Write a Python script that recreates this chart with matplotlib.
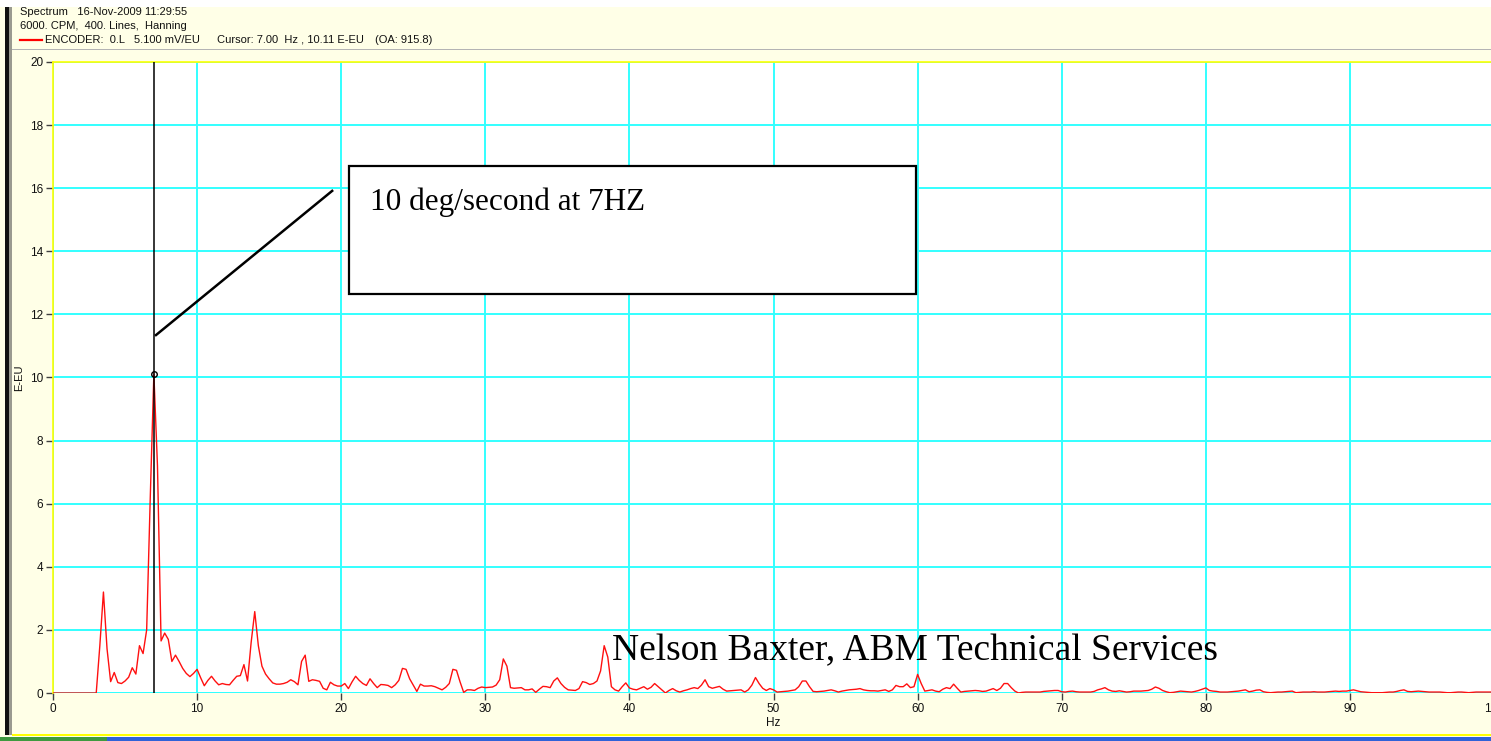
import numpy as np
import matplotlib
matplotlib.use("Agg")
import matplotlib.pyplot as plt
from matplotlib.patches import Rectangle

# ---- spectrum data: 400 lines, 0-100 Hz (0.25 Hz per line) ----
freq_step_hz = 0.25
amplitude_eeu = [
    # 0-2.75 Hz
    0, 0, 0, 0, 0, 0, 0, 0, 0, 0, 0, 0,
    0.0, 1.5, 3.2, 1.4,        # 3 Hz
    0.36, 0.65, 0.33, 0.30,    # 4
    0.38, 0.50, 0.80, 0.60,    # 5
    1.50, 1.25, 2.00, 6.20,    # 6
    10.11, 7.20, 1.65, 1.90,   # 7
    1.70, 1.00, 1.20, 1.00,    # 8
    0.78, 0.62, 0.52, 0.62,    # 9
    0.75, 0.48, 0.23, 0.40,    # 10
    0.53, 0.38, 0.26, 0.30,    # 11
    0.27, 0.26, 0.40, 0.53,    # 12
    0.55, 0.90, 0.38, 1.60,    # 13
    2.58, 1.50, 0.85, 0.60,    # 14
    0.45, 0.32, 0.28, 0.28,    # 15
    0.30, 0.34, 0.42, 0.36,    # 16
    0.26, 1.00, 1.20, 0.37,    # 17
    0.42, 0.40, 0.37, 0.15,    # 18
    0.10, 0.34, 0.26, 0.22,    # 19
    0.22, 0.30, 0.14, 0.35,    # 20
    0.53, 0.40, 0.30, 0.24,    # 21
    0.45, 0.30, 0.17, 0.27,    # 22
    0.26, 0.24, 0.17, 0.26,    # 23
    0.40, 0.78, 0.75, 0.45,    # 24
    0.25, 0.05, 0.28, 0.22,    # 25
    0.22, 0.23, 0.20, 0.15,    # 26
    0.10, 0.18, 0.30, 0.75,    # 27
    0.72, 0.35, 0.02, 0.10,    # 28
    0.10, 0.08, 0.15, 0.19,    # 29
    0.17, 0.18, 0.19, 0.25,    # 30
    0.42, 1.08, 0.85, 0.17,    # 31
    0.15, 0.16, 0.17, 0.10,    # 32
    0.10, 0.13, 0.02, 0.12,    # 33
    0.21, 0.20, 0.17, 0.38,    # 34
    0.48, 0.30, 0.18, 0.10,    # 35
    0.09, 0.08, 0.14, 0.36,    # 36
    0.33, 0.27, 0.30, 0.38,    # 37
    0.70, 1.50, 1.14, 0.20,    # 38
    0.10, 0.06, 0.20, 0.32,    # 39
    0.16, 0.12, 0.10, 0.15,    # 40
    0.20, 0.12, 0.18, 0.30,    # 41
    0.20, 0.10, 0.00, 0.08,    # 42
    0.14, 0.07, 0.03, 0.07,    # 43
    0.10, 0.14, 0.17, 0.14,    # 44
    0.25, 0.42, 0.20, 0.15,    # 45
    0.18, 0.21, 0.12, 0.06,    # 46
    0.07, 0.08, 0.09, 0.10,    # 47
    0.03, 0.10, 0.25, 0.49,    # 48
    0.30, 0.15, 0.08, 0.14,    # 49
    0.10, 0.03, 0.04, 0.05,    # 50
    0.06, 0.08, 0.10, 0.20,    # 51
    0.38, 0.38, 0.20, 0.05,    # 52
    0.04, 0.05, 0.06, 0.08,    # 53
    0.10, 0.07, 0.03, 0.06,    # 54
    0.08, 0.10, 0.11, 0.12,    # 55
    0.14, 0.10, 0.08, 0.07,    # 56
    0.07, 0.06, 0.08, 0.10,    # 57
    0.05, 0.10, 0.24, 0.20,    # 58
    0.20, 0.29, 0.17, 0.20,    # 59
    0.59, 0.30, 0.06, 0.08,    # 60
    0.10, 0.06, 0.04, 0.12,    # 61
    0.17, 0.14, 0.28, 0.15,    # 62
    0.03, 0.05, 0.06, 0.07,    # 63
    0.08, 0.07, 0.05, 0.06,    # 64
    0.10, 0.14, 0.08, 0.15,    # 65
    0.30, 0.30, 0.17, 0.06,    # 66
    0.00, 0.02, 0.03, 0.03,    # 67
    0.03, 0.03, 0.03, 0.05,    # 68
    0.06, 0.07, 0.08, 0.08,    # 69
    0.04, 0.03, 0.05, 0.06,    # 70
    0.04, 0.03, 0.03, 0.03,    # 71
    0.03, 0.05, 0.10, 0.13,    # 72
    0.17, 0.10, 0.06, 0.05,    # 73
    0.07, 0.05, 0.03, 0.04,    # 74
    0.06, 0.06, 0.06, 0.07,    # 75
    0.08, 0.12, 0.19, 0.15,    # 76
    0.08, 0.04, 0.01, 0.02,    # 77
    0.04, 0.06, 0.05, 0.04,    # 78
    0.03, 0.05, 0.08, 0.12,    # 79
    0.16, 0.08, 0.06, 0.05,    # 80
    0.03, 0.03, 0.03, 0.04,    # 81
    0.05, 0.06, 0.08, 0.10,    # 82
    0.04, 0.06, 0.09, 0.10,    # 83
    0.04, 0.02, 0.01, 0.02,    # 84
    0.03, 0.03, 0.04, 0.05,    # 85
    0.06, 0.01, 0.02, 0.03,    # 86
    0.03, 0.03, 0.04, 0.03,    # 87
    0.03, 0.03, 0.04, 0.05,    # 88
    0.06, 0.05, 0.06, 0.06,    # 89
    0.08, 0.10, 0.07, 0.04,    # 90
    0.03, 0.02, 0.01, 0.01,    # 91
    0.01, 0.01, 0.02, 0.03,    # 92
    0.03, 0.05, 0.08, 0.10,    # 93
    0.05, 0.04, 0.05, 0.06,    # 94
    0.05, 0.04, 0.03, 0.03,    # 95
    0.03, 0.03, 0.02, 0.01,    # 96
    0.01, 0.02, 0.03, 0.03,    # 97
    0.02, 0.01, 0.02, 0.03,    # 98
    0.03, 0.03, 0.03, 0.03,    # 99
    0.03,                      # 100
]
freq_hz = np.arange(len(amplitude_eeu)) * freq_step_hz

x_ticks = [0, 10, 20, 30, 40, 50, 60, 70, 80, 90, 100]
x_tick_labels = ["0", "10", "20", "30", "40", "50", "60", "70", "80", "90", "100"]
y_ticks = [0, 2, 4, 6, 8, 10, 12, 14, 16, 18, 20]

cursor_hz = 7.00
cursor_value = 10.11

header_lines = [
    "Spectrum   16-Nov-2009 11:29:55",
    "6000. CPM,  400. Lines,  Hanning",
]
legend_parts = [
    ("ENCODER:  0.L   5.100 mV/EU", 45),
    ("Cursor: 7.00  Hz , 10.11 E-EU", 217),
    ("(OA: 915.8)", 375),
]
note_text = "10 deg/second at 7HZ"
credit_text = "Nelson Baxter, ABM Technical Services"

# ---- figure ----
W, H = 1491, 741
CREAM = "#FFFFE7"
GRID = "#33FFFF"
fig = plt.figure(figsize=(W / 100, H / 100), dpi=100, facecolor=CREAM)

def px(x, y):
    return x / W, 1 - y / H

# window chrome: white top strip, dark left border, header separator, taskbar
fig.patches.append(Rectangle(px(0, 7), 1, 7 / H, transform=fig.transFigure,
                             facecolor="white", edgecolor="none", zorder=0))
fig.patches.append(Rectangle(px(5, 735), 4 / W, 728 / H, transform=fig.transFigure,
                             facecolor="#101010", edgecolor="none", zorder=1))
fig.patches.append(Rectangle(px(9, 735), 3 / W, 728 / H, transform=fig.transFigure,
                             facecolor="#9a9a90", edgecolor="none", zorder=1))
fig.patches.append(Rectangle(px(12, 50), 1 - 12 / W, 1.5 / H, transform=fig.transFigure,
                             facecolor="#b4b4b4", edgecolor="none", zorder=1))
fig.patches.append(Rectangle(px(12, 736), 1 - 12 / W, 2 / H, transform=fig.transFigure,
                             facecolor="#FFFF00", edgecolor="none", zorder=1))
fig.patches.append(Rectangle(px(0, 741), 107 / W, 4 / H, transform=fig.transFigure,
                             facecolor="#3f9a3f", edgecolor="none", zorder=1))
fig.patches.append(Rectangle(px(107, 741), 1 - 107 / W, 4 / H, transform=fig.transFigure,
                             facecolor="#2f62d8", edgecolor="none", zorder=1))

# header text
hdr_font = dict(family=["Liberation Sans", "DejaVu Sans"], fontsize=8, color="#111111")
fig.text(*px(20, 12), header_lines[0], va="center", ha="left", **hdr_font)
fig.text(*px(20, 26), header_lines[1], va="center", ha="left", **hdr_font)
fig.lines.append(plt.Line2D([20 / W, 42 / W], [1 - 40 / H, 1 - 40 / H],
                            transform=fig.transFigure, color="red", lw=1.6))
for txt, xpos in legend_parts:
    fig.text(*px(xpos, 40), txt, va="center", ha="left", **hdr_font)

# ---- plot area ----
ax = fig.add_axes([53 / W, 48 / H, 1441 / W, 631 / H])
ax.set_facecolor("white")
ax.set_xlim(0, 100)
ax.set_ylim(0, 20)
ax.set_xticks(x_ticks)
ax.set_xticklabels(x_tick_labels)
ax.set_yticks(y_ticks)
ax.grid(True, color=GRID, lw=1.4, zorder=1)
ax.set_axisbelow(True)
for side in ("right", "bottom"):
    ax.spines[side].set_visible(False)
for side in ("left", "top"):
    ax.spines[side].set_color("#FFFF00")
    ax.spines[side].set_linewidth(1.2)
ax.tick_params(axis="both", direction="out", length=5, width=1, color="#404040",
               labelsize=8.5, labelcolor="#111111", pad=2)
for lbl in ax.get_xticklabels() + ax.get_yticklabels():
    lbl.set_family(["Liberation Sans", "DejaVu Sans"])
ax.set_xlabel("Hz", fontsize=8.5, family=["Liberation Sans", "DejaVu Sans"],
              labelpad=2, color="#111111")
ax.set_ylabel("E-EU", fontsize=8, family=["Liberation Sans", "DejaVu Sans"],
              labelpad=4, color="#111111")

# baseline gridline drawn explicitly in cyan
ax.axhline(0, color=GRID, lw=1.4, zorder=1.5)

# spectrum trace
ax.plot(freq_hz, amplitude_eeu, color="#FF1010", lw=1.0, zorder=3)

# cursor line and marker
ax.axvline(cursor_hz, color="black", lw=1.1, zorder=4)
ax.plot([cursor_hz], [cursor_value], "o", mfc="none", mec="black", ms=4, mew=1, zorder=5)

# callout: leader line and text box
ax.plot([7.08, 19.44], [11.32, 15.94], color="black", lw=1.8, zorder=6,
        solid_capstyle="butt")
ax.add_patch(Rectangle((20.56, 12.65), 59.86 - 20.56, 16.70 - 12.65,
                       facecolor="white", edgecolor="black", lw=1.6, zorder=6))
ax.text(22.0, 15.31, note_text, family=["Liberation Serif", "DejaVu Serif"],
        fontsize=22.5, color="black", va="baseline", ha="left", zorder=7)

# credit line
ax.text(38.82, 1.05, credit_text, family=["Liberation Serif", "DejaVu Serif"],
        fontsize=27, color="black", va="baseline", ha="left", zorder=7)

fig.savefig("out.png", dpi=100, facecolor=CREAM)
